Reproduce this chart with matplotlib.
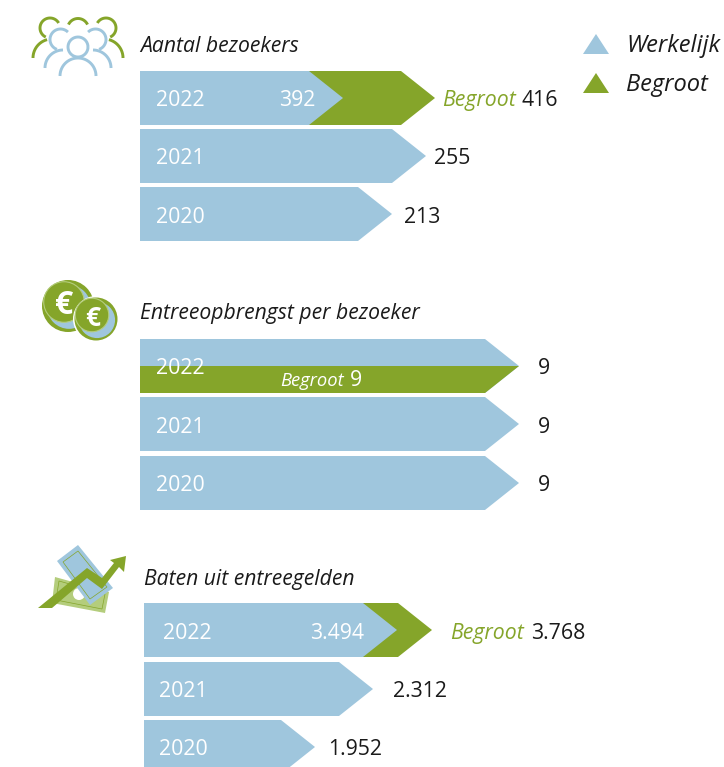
# Pijlgrafiek bezoekers, entreeopbrengst en baten
import numpy as np
import matplotlib.pyplot as plt
from matplotlib.patches import Circle, Polygon

plt.rcParams['font.family'] = ['Open Sans', 'DejaVu Sans']

BLAUW = '#9fc6dd'
GROEN = '#85a52a'
LICHTGROEN = '#b4cd7c'
ZWART = '#1a1a1a'

# Data
jaren = ['2022', '2021', '2020']
legenda = ['Werkelijk', 'Begroot']

titel_1 = 'Aantal bezoekers'
labels_1 = ['392', '255', '213']
begroot_label_1 = '416'
lengte_1 = [203, 286, 252]
begroot_lengte_1 = 295

titel_2 = 'Entreeopbrengst per bezoeker'
labels_2 = ['9', '9', '9']
begroot_label_2 = '9'
lengte_2 = [379, 379, 379]
begroot_lengte_2 = 379

titel_3 = 'Baten uit entreegelden'
labels_3 = ['3.494', '2.312', '1.952']
begroot_label_3 = '3.768'
lengte_3 = [253, 229, 171]
begroot_lengte_3 = 288

KOP = 34
HOOGTE = 54
GROOT = 15.3
TITEL = 15.2

fig = plt.figure(figsize=(7.24, 7.67), dpi=100)
ax = fig.add_axes([0, 0, 1, 1])
ax.set_xlim(0, 724)
ax.set_ylim(767, 0)
ax.axis('off')


def pijl(x0, y, lengte, kleur, z=2, alleen_onder=False):
    x1 = x0 + lengte
    if alleen_onder:
        punten = [(x0, y + HOOGTE / 2), (x1, y + HOOGTE / 2), (x1 - KOP, y + HOOGTE), (x0, y + HOOGTE)]
    else:
        punten = [(x0, y), (x1 - KOP, y), (x1, y + HOOGTE / 2), (x1 - KOP, y + HOOGTE), (x0, y + HOOGTE)]
    ax.add_patch(Polygon(punten, closed=True, fc=kleur, ec='none', zorder=z))


def tekst(x, y, s, kleur=ZWART, size=GROOT, style='normal'):
    ax.text(x, y, s, color=kleur, fontsize=size, style=style, ha='left', va='baseline', zorder=5)


def boog(cx, cy, r, a1, a2, kleur, lw=2.1):
    a = np.radians(np.linspace(a1, a2, 40))
    ax.plot(cx + r * np.cos(a), cy - r * np.sin(a), color=kleur, lw=lw, solid_capstyle='butt', zorder=3)


# Paneel 1
tekst(140, 52, titel_1, size=TITEL, style='italic')
for y, lengte, jaar, basis in zip([71, 129, 187], lengte_1, jaren, [106, 164, 223]):
    pijl(140, y, lengte, BLAUW, z=3)
    tekst(156, basis, jaar, 'white')
pijl(140, 71, begroot_lengte_1, GROEN, z=2)
tekst(279, 106, labels_1[0], 'white')
tekst(442, 106, 'Begroot', GROEN, style='italic')
tekst(522, 106, begroot_label_1)
tekst(434, 164, labels_1[1])
tekst(404, 223, labels_1[2])

# Paneel 2
tekst(140, 319, titel_2, size=TITEL, style='italic')
for y, lengte, jaar, basis in zip([339, 397, 456], lengte_2, jaren, [374, 433, 491]):
    pijl(140, y, lengte, BLAUW, z=2)
    tekst(156, basis, jaar, 'white')
pijl(140, 339, begroot_lengte_2, GROEN, z=3, alleen_onder=True)
tekst(280, 386, 'Begroot', 'white', size=13.2, style='italic')
tekst(350, 386, begroot_label_2, 'white', size=GROOT)
for basis, label in zip([374, 433, 491], labels_2):
    tekst(538, basis, label)

# Paneel 3
tekst(144, 585, titel_3, size=TITEL, style='italic')
for y, lengte, jaar, basis, x_jaar in zip([603, 662, 720], lengte_3, jaren, [639, 697, 755], [163, 159, 159]):
    pijl(144, y, lengte, BLAUW, z=3)
    tekst(x_jaar, basis, jaar, 'white')
pijl(144, 603, begroot_lengte_3, GROEN, z=2)
tekst(310, 639, labels_3[0], 'white')
tekst(450, 639, 'Begroot', GROEN, style='italic')
tekst(531, 639, begroot_label_3)
tekst(393, 697, labels_3[1])
tekst(328, 755, labels_3[2])

# Legenda
for y, kleur, naam in zip([34, 73], [BLAUW, GROEN], legenda):
    ax.add_patch(Polygon([(583, y + 20), (596, y), (609, y + 20)], closed=True, fc=kleur, ec='none'))
    tekst(626, y + 18, naam, size=17, style='italic')

# Icoon mensen
for spiegel in [False, True]:
    m = (lambda x: 156 - x) if spiegel else (lambda x: x)
    b = (lambda a: 180 - a) if spiegel else (lambda a: a)
    boog(m(50), 28, 10, b(30), b(245), GROEN)
    boog(m(52), 58, 19, b(105), b(180), GROEN)
    boog(m(60.5), 39.5, 10.5, b(45), b(250), BLAUW)
    boog(m(63), 68, 18, b(90), b(180), BLAUW)
boog(78, 29, 10.5, 25, 155, GROEN)
boog(78, 47, 10, 0, 360, BLAUW)
boog(78, 76, 18, 0, 180, BLAUW)

# Icoon munten
for cx, cy, r, e, s in [(68, 306, 26, (64, 306), 23), (96, 319, 21.5, (93, 319), 19)]:
    ax.add_patch(Circle((cx, cy), r + 1.5, fc='white', ec='none', zorder=2))
    ax.add_patch(Circle((cx, cy), r, fc=GROEN, ec='none', zorder=2))
    ax.add_patch(Circle((cx + 1, cy + 1), r * 0.84, fc=BLAUW, ec='none', zorder=2))
    ax.add_patch(Circle((cx - 4, cy - 4), r * 0.78, fc=GROEN, ec=LICHTGROEN, lw=0.8, zorder=2))
    ax.text(e[0], e[1], '€', color='white', fontsize=s, weight='bold', ha='center', va='center', zorder=3)

# Icoon geld met pijl
ax.add_patch(Polygon([(55, 577), (109, 592), (105, 613), (52, 603)], closed=True, fc=LICHTGROEN, ec='none', zorder=2))
ax.add_patch(Polygon([(59, 581), (105, 594), (102, 609), (56, 600)], closed=True, fc='none', ec=GROEN, lw=0.5, zorder=2))
ax.add_patch(Circle((79, 594), 6, fc='white', ec='none', zorder=2))
ax.add_patch(Polygon([(78, 545), (113, 588), (90, 605), (57, 561)], closed=True, fc=BLAUW, ec='none', zorder=2))
ax.add_patch(Polygon([(78, 551), (107, 587), (90, 599), (63, 562)], closed=True, fc='none', ec=GROEN, lw=0.5, zorder=2))
ax.add_patch(Polygon([(38, 608), (87, 568), (102, 578), (114, 563), (110, 560), (126, 556),
                      (124, 572), (119, 567), (102, 589), (87, 578), (52, 608)],
                     closed=True, fc=GROEN, ec='none', zorder=3))

fig.savefig('out.png', dpi=100)
